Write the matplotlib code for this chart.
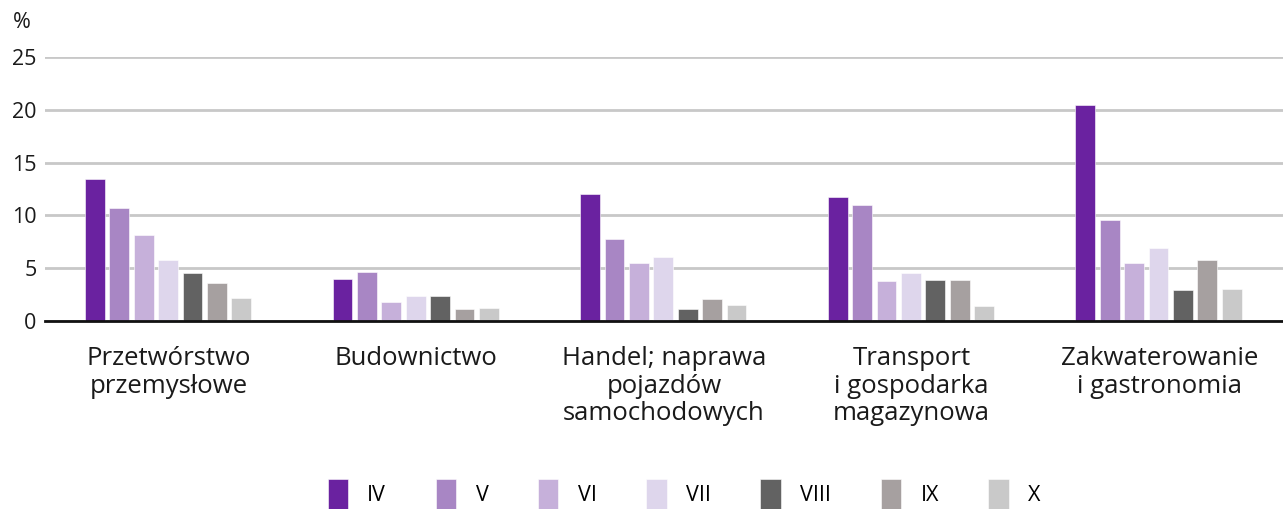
import numpy as np
import matplotlib.pyplot as plt

# data
categories = ['Przetwórstwo\nprzemysłowe', 'Budownictwo', 'Handel; naprawa\npojazdów\nsamochodowych',
              'Transport\ni gospodarka\nmagazynowa', 'Zakwaterowanie\ni gastronomia']
months = ['IV', 'V', 'VI', 'VII', 'VIII', 'IX', 'X']
iv = [13.4, 4.0, 12.0, 11.7, 20.5]
v = [10.7, 4.6, 7.8, 11.0, 9.6]
vi = [8.1, 1.8, 5.5, 3.8, 5.5]
vii = [5.8, 2.4, 6.1, 4.5, 6.9]
viii = [4.5, 2.4, 1.1, 3.9, 2.9]
ix = [3.6, 1.1, 2.1, 3.9, 5.8]
x_ = [2.2, 1.2, 1.5, 1.4, 3.0]
series = [iv, v, vi, vii, viii, ix, x_]
colors = ['#6a22a0', '#a886c4', '#c6b0da', '#ded6ec', '#626262', '#a6a0a0', '#c9c9c9']

plt.rcParams['font.family'] = ['Open Sans', 'DejaVu Sans']

fig = plt.figure(figsize=(12.83, 5.09), dpi=100)
ax = fig.add_axes([45 / 1283, (509 - 321) / 509, 1 - 45 / 1283, (321 - 57) / 509])

pos = np.arange(len(categories))
step = 0.0985
width = 0.08
for i, (vals, c, m) in enumerate(zip(series, colors, months)):
    ax.bar(pos + (i - 3) * step - 0.003, vals, width, color=c, label=m, zorder=3,
           edgecolor='white', linewidth=0.4)

ax.set_xlim(-0.5, 4.5)
ax.set_ylim(0, 25)
ax.set_yticks([0, 5, 10, 15, 20, 25])
ax.yaxis.grid(True, color='#c8c8c8', linewidth=2, zorder=0)
ax.set_axisbelow(True)
for s in ['top', 'right', 'left']:
    ax.spines[s].set_visible(False)
ax.spines['bottom'].set_linewidth(2)
ax.spines['bottom'].set_color('#111111')
ax.spines['bottom'].set_zorder(4)

ax.set_xticks(pos)
ax.set_xticklabels(categories, fontsize=18.5, linespacing=1.14, color='#1a1a1a')
ax.tick_params(axis='x', length=0, pad=18)
ax.tick_params(axis='y', length=0, labelsize=15.5, pad=6, labelcolor='#1a1a1a')

fig.text(22 / 1283, 1 - 22 / 509, '%', fontsize=15.5, ha='center', va='center', color='#1a1a1a')

fig.legend(loc='center', bbox_to_anchor=(684 / 1283, 1 - 494 / 509), ncol=7, frameon=False,
           fontsize=15.5, handlelength=0.95, handleheight=1.75, columnspacing=2.3,
           handletextpad=0.9)

plt.savefig('out.png', dpi=100)
